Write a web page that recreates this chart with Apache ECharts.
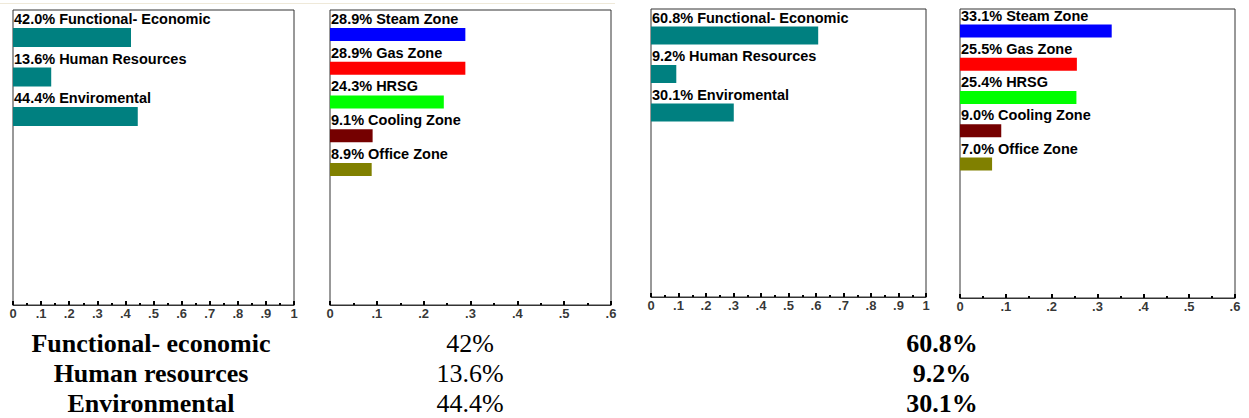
<!DOCTYPE html>
<html>
<head>
<meta charset="utf-8">
<script src="https://cdn.jsdelivr.net/npm/echarts@6/dist/echarts.min.js"></script>
<style>
html,body{margin:0;padding:0;background:#fff;}
#chart{width:1249px;height:418px;}
</style>
</head>
<body>
<div id="chart"></div>
<script>
// ---- data ----
var criteriaNames = ['Functional- Economic', 'Human Resources', 'Enviromental'];
var zoneNames = ['Steam Zone', 'Gas Zone', 'HRSG', 'Cooling Zone', 'Office Zone'];
var criteriaValuesA = [0.420, 0.136, 0.444];
var zoneValuesA = [0.289, 0.289, 0.243, 0.091, 0.089];
var criteriaValuesB = [0.608, 0.092, 0.301];
var zoneValuesB = [0.331, 0.255, 0.254, 0.090, 0.070];
var criteriaColor = '#008080';
var zoneColors = ['#0000ff', '#ff0000', '#00ff00', '#750000', '#808000'];
var tickValuesFull = [0, 0.1, 0.2, 0.3, 0.4, 0.5, 0.6, 0.7, 0.8, 0.9, 1];
var tickLabelsFull = ['0', '.1', '.2', '.3', '.4', '.5', '.6', '.7', '.8', '.9', '1'];
var tickValuesZone = [0, 0.1, 0.2, 0.3, 0.4, 0.5, 0.6];
var tickLabelsZone = ['0', '.1', '.2', '.3', '.4', '.5', '.6'];
var tableNames = ['Functional- economic', 'Human resources', 'Environmental'];
var tableValuesA = ['42%', '13.6%', '44.4%'];
var tableValuesB = ['60.8%', '9.2%', '30.1%'];

// ---- layout ----
var panels = [
  {left: 13,  width: 281, top: 10, height: 295, max: 1,   barTop: 17.75, barH: 118.5,  barW: 19, names: criteriaNames, values: criteriaValuesA, colors: null, tv: tickValuesFull, tl: tickLabelsFull},
  {left: 330, width: 281, top: 10, height: 295, max: 0.6, barTop: 17.6,  barH: 168.75, barW: 13, names: zoneNames,     values: zoneValuesA,     colors: zoneColors, tv: tickValuesZone, tl: tickLabelsZone},
  {left: 651, width: 275, top: 9,  height: 288, max: 1,   barTop: 16.25, barH: 115.5,  barW: 18, names: criteriaNames, values: criteriaValuesB, colors: null, tv: tickValuesFull, tl: tickLabelsFull},
  {left: 960, width: 275, top: 9,  height: 289, max: 0.6, barTop: 14.4,  barH: 166.25, barW: 13, names: zoneNames,     values: zoneValuesB,     colors: zoneColors, tv: tickValuesZone, tl: tickLabelsZone}
];

var grids = [], xAxes = [], yAxes = [], series = [];
panels.forEach(function (p, i) {
  // frame grid with axis
  grids.push({left: p.left, top: p.top, width: p.width, height: p.height,
    show: true, borderColor: '#333', borderWidth: 1, backgroundColor: '#fff'});
  xAxes.push({type: 'value', gridIndex: 2 * i, min: 0, max: p.max, interval: 0.1,
    axisLine: {show: true, lineStyle: {color: '#333', width: 1}},
    axisTick: {show: true, inside: true, length: 4, lineStyle: {color: '#000', width: 2}},
    minorTick: {show: true, splitNumber: 2, length: 2, lineStyle: {color: '#000', width: 2}},
    splitLine: {show: false},
    axisLabel: {show: false}
  });
  yAxes.push({type: 'value', gridIndex: 2 * i, min: 0, max: 1, show: false});
  // tick labels placed through the frame axis scale
  series.push({
    type: 'scatter', xAxisIndex: 2 * i, yAxisIndex: 2 * i,
    symbolSize: 0, clip: false, silent: true, animation: false,
    data: p.tv.map(function (v) { return [v, 0]; }),
    label: {show: true, position: 'bottom', distance: 2,
      color: '#000', fontFamily: 'Liberation Sans', fontWeight: 'bold', fontSize: 13,
      formatter: function (d) { return p.tl[d.dataIndex]; }},
    emphasis: {disabled: true}
  });
  // bar grid
  grids.push({left: p.left, top: p.barTop, width: p.width, height: p.barH, show: false});
  xAxes.push({type: 'value', gridIndex: 2 * i + 1, min: 0, max: p.max, show: false});
  yAxes.push({type: 'category', gridIndex: 2 * i + 1, data: p.names, inverse: true, show: false});
  series.push({
    type: 'bar', xAxisIndex: 2 * i + 1, yAxisIndex: 2 * i + 1,
    barWidth: p.barW,
    data: p.values.map(function (v, k) {
      return {value: v, itemStyle: {color: p.colors ? p.colors[k] : criteriaColor}};
    }),
    itemStyle: {color: criteriaColor},
    label: {show: true, position: [1, -9], align: 'left', verticalAlign: 'middle',
      color: '#000', fontFamily: 'Liberation Sans', fontWeight: 'bold', fontSize: 14.5,
      formatter: function (d) { return (d.value * 100).toFixed(1) + '% ' + p.names[d.dataIndex]; }},
    emphasis: {disabled: true},
    silent: true, animation: false
  });
});

// bottom table text
var graphics = [{type: 'line', shape: {x1: 0, y1: 3.5, x2: 615, y2: 3.5}, style: {stroke: '#efe9d9', lineWidth: 1}}];
var rowY = [343, 373, 403];
tableNames.forEach(function (n, k) {
  graphics.push({type: 'text', x: 151, y: rowY[k], style: {text: n, fill: '#000', align: 'center', verticalAlign: 'middle',
    font: 'bold 26px "Liberation Serif", "Times New Roman", serif'}});
  graphics.push({type: 'text', x: 470, y: rowY[k], style: {text: tableValuesA[k], fill: '#000', align: 'center', verticalAlign: 'middle',
    font: '26px "Liberation Serif", "Times New Roman", serif'}});
  graphics.push({type: 'text', x: 942, y: rowY[k], style: {text: tableValuesB[k], fill: '#000', align: 'center', verticalAlign: 'middle',
    font: 'bold 26px "Liberation Serif", "Times New Roman", serif'}});
});

var chart = echarts.init(document.getElementById('chart'), null, {renderer: 'svg'});
chart.setOption({
  animation: false,
  backgroundColor: '#fff',
  grid: grids,
  xAxis: xAxes,
  yAxis: yAxes,
  series: series,
  graphic: graphics
});
</script>
</body>
</html>
